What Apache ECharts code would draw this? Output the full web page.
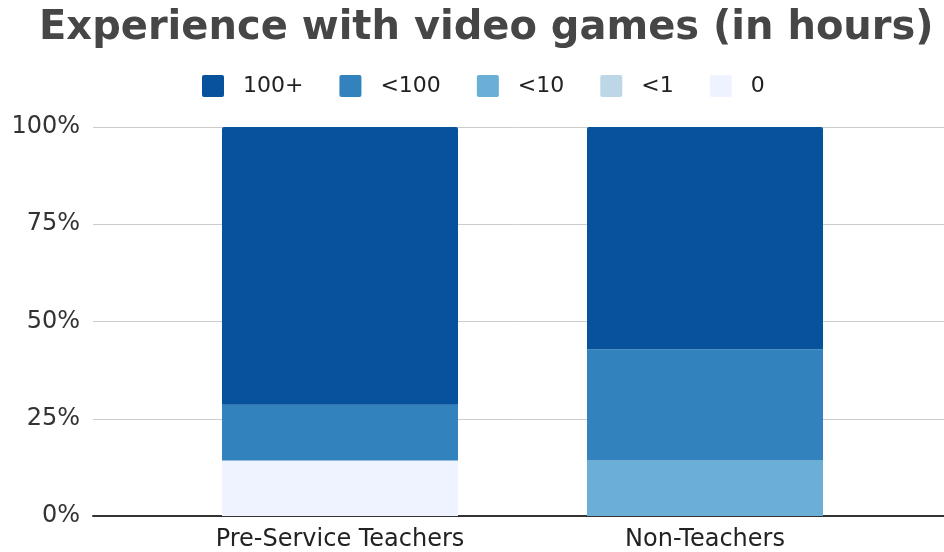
<!DOCTYPE html>
<html>
<head>
<meta charset="utf-8">
<script src="https://cdn.jsdelivr.net/npm/echarts@6/dist/echarts.min.js"></script>
<style>
  html, body { margin: 0; padding: 0; background: #fff; }
  #chart { width: 944px; height: 552px; }
</style>
</head>
<body>
<div id="chart"></div>
<script>
// Share of respondents by hours of video game experience (percent)
const categories = ['Pre-Service Teachers', 'Non-Teachers'];
const legendOrder = ['100+', '<100', '<10', '<1', '0'];
const hours100Plus = [71.42, 57.14];
const hoursUnder100 = [14.29, 28.57];
const hoursUnder10 = [0, 14.29];
const hoursUnder1 = [0, 0];
const hoursZero = [14.29, 0];
const yTicks = [0, 25, 50, 75, 100];

const colors = {
  '100+': '#08519c',
  '<100': '#3182bd',
  '<10': '#6baed6',
  '<1': '#bdd7e7',
  '0': '#eff3ff'
};

const font = 'DejaVu Sans';
const chart = echarts.init(document.getElementById('chart'));

// stacked from the bottom up
const stack = [
  ['0', hoursZero],
  ['<1', hoursUnder1],
  ['<10', hoursUnder10],
  ['<100', hoursUnder100],
  ['100+', hours100Plus]
];

const series = stack.map(([name, data], i) => ({
  name,
  type: 'bar',
  stack: 'total',
  xAxisIndex: 1,
  yAxisIndex: 1,
  barWidth: 236,
  data,
  itemStyle: {
    color: colors[name],
    borderRadius: i === stack.length - 1 ? [2, 2, 0, 0] : 0
  },
  emphasis: { disabled: true }
}));

// small square swatch with softened corners
const swatch = 'path://M2,0H20Q22,0 22,2V20Q22,22 20,22H2Q0,22 0,20V2Q0,0 2,0Z';

chart.setOption({
  animation: false,
  title: {
    text: 'Experience with video games (in hours)',
    left: 34,
    top: 4,
    textStyle: { fontFamily: font, fontWeight: 'bold', fontSize: 40, color: '#464646' }
  },
  legend: {
    data: legendOrder,
    top: 70,
    left: 197,
    itemWidth: 22,
    itemHeight: 22,
    itemGap: 36,
    icon: swatch,
    textStyle: { fontFamily: font, fontSize: 22, color: '#222222', padding: [0, 0, 0, 14] }
  },
  grid: [
    { left: 93, right: 0, top: 127, bottom: 36, containLabel: false },
    { left: 157.5, right: 56.5, top: 127, bottom: 36, containLabel: false }
  ],
  xAxis: [
    {
      gridIndex: 0, type: 'value', min: 0, max: 1,
      axisLine: { show: true, lineStyle: { color: '#333333', width: 2 } },
      axisTick: { show: false }, axisLabel: { show: false }, splitLine: { show: false }
    },
    {
      gridIndex: 1, type: 'category', data: categories,
      axisLine: { show: false }, axisTick: { show: false },
      axisLabel: { fontFamily: font, fontSize: 24, color: '#222222', margin: 12 }
    }
  ],
  yAxis: [
    {
      gridIndex: 0, type: 'value', min: yTicks[0], max: yTicks[yTicks.length - 1], interval: 25,
      axisLine: { show: false }, axisTick: { show: false },
      axisLabel: { fontFamily: font, fontSize: 24, color: '#333333', margin: 13, formatter: '{value}%' },
      splitLine: { lineStyle: { color: '#cccccc', width: 1 } }
    },
    {
      gridIndex: 1, type: 'value', min: 0, max: 100, show: false, splitLine: { show: false }
    }
  ],
  series
});
</script>
</body>
</html>
